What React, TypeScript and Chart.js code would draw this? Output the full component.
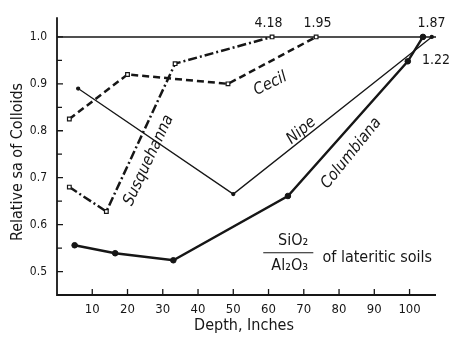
import React, { useEffect, useRef } from 'react';
import { Chart, registerables } from 'chart.js';

Chart.register(...registerables);

// ---- data (depth in inches, relative SiO2/Al2O3 of colloids) ----
const susquehannaDepth = [3.5, 14, 33.5, 61];
const susquehannaValue = [0.68, 0.628, 0.943, 1.0];
const cecilDepth = [3.5, 20, 48.5, 73.5];
const cecilValue = [0.825, 0.92, 0.9, 1.0];
const nipeDepth = [6, 50, 106.3];
const nipeValue = [0.89, 0.665, 1.0];
const columbianaDepth = [5, 16.5, 33, 65.5, 99.5, 103.8];
const columbianaValue = [0.556, 0.539, 0.524, 0.661, 0.948, 1.0];

const yTickValues = [0.5, 0.6, 0.7, 0.8, 0.9, 1.0];
const yMinorTickValues = [0.55, 0.65, 0.75, 0.85, 0.95];
const xTickValues = [10, 20, 30, 40, 50, 60, 70, 80, 90, 100];
const offScaleLabels = ['4.18', '1.95', '1.87', '1.22'];

const ink = '#161616';
const FONT = '"DejaVu Sans Condensed", "Liberation Sans Narrow", "DejaVu Sans", sans-serif';

const toPoints = (xs: number[], ys: number[]) => xs.map((x, i) => ({ x, y: ys[i] }));

const decor = {
  id: 'decor',
  beforeDatasetsDraw(chart: any) {
    const { ctx, scales, chartArea } = chart;
    const y = scales.y;
    ctx.save();
    ctx.strokeStyle = ink;
    ctx.lineWidth = 1.5;
    const py = y.getPixelForValue(1.0);
    ctx.beginPath();
    ctx.moveTo(chartArea.left, py);
    ctx.lineTo(chartArea.right, py);
    ctx.stroke();
    ctx.restore();
  },
  afterDraw(chart: any) {
    const { ctx, scales, chartArea } = chart;
    const x = scales.x;
    const y = scales.y;
    const X = (v: number) => x.getPixelForValue(v);
    const Y = (v: number) => y.getPixelForValue(v);
    ctx.save();
    ctx.strokeStyle = ink;
    ctx.fillStyle = ink;
    ctx.lineWidth = 1.8;
    // axes
    ctx.beginPath();
    ctx.moveTo(chartArea.left, chartArea.top);
    ctx.lineTo(chartArea.left, chartArea.bottom);
    ctx.lineTo(chartArea.right, chartArea.bottom);
    ctx.stroke();
    // ticks (inward)
    ctx.lineWidth = 1.3;
    ctx.beginPath();
    yTickValues.forEach((v) => {
      ctx.moveTo(chartArea.left, Y(v));
      ctx.lineTo(chartArea.left + 6, Y(v));
    });
    yMinorTickValues.forEach((v) => {
      ctx.moveTo(chartArea.left, Y(v));
      ctx.lineTo(chartArea.left + 5, Y(v));
    });
    xTickValues.forEach((v) => {
      ctx.moveTo(X(v), chartArea.bottom);
      ctx.lineTo(X(v), chartArea.bottom - 6);
    });
    ctx.stroke();

    // axis titles
    ctx.font = `16px ${FONT}`;
    ctx.textAlign = 'center';
    ctx.textBaseline = 'middle';
    ctx.fillText('Depth, Inches', 244, 326);
    ctx.save();
    ctx.translate(18, 162);
    ctx.rotate(-Math.PI / 2);
    ctx.fillText('Relative sa of Colloids', 0, 0);
    ctx.restore();

    // off-scale values
    ctx.font = `14px ${FONT}`;
    ctx.fillText(offScaleLabels[0], X(60), Y(1.028));
    ctx.fillText(offScaleLabels[1], X(73.9), Y(1.028));
    ctx.fillText(offScaleLabels[2], X(106.2), Y(1.028));
    ctx.fillText(offScaleLabels[3], X(107.5), Y(0.95));

    // series names
    const rotText = (t: string, vx: number, vy: number, deg: number) => {
      ctx.save();
      ctx.translate(X(vx), Y(vy));
      ctx.rotate((deg * Math.PI) / 180);
      ctx.fillText(t, 0, 0);
      ctx.restore();
    };
    ctx.font = `italic 16px ${FONT}`;
    rotText('Cecil', 60.5, 0.9, -26);
    rotText('Susquehanna', 26, 0.737, -65);
    rotText('Nipe', 69.3, 0.8, -40);
    rotText('Columbiana', 83.5, 0.752, -51);

    // fraction caption
    ctx.font = `16px ${FONT}`;
    ctx.fillText('SiO\u2082', X(67), Y(0.565));
    ctx.fillText('Al\u2082O\u2083', X(66), Y(0.513));
    ctx.lineWidth = 1.2;
    ctx.beginPath();
    ctx.moveTo(X(58.5), Y(0.54));
    ctx.lineTo(X(72.7), Y(0.54));
    ctx.stroke();
    ctx.textAlign = 'left';
    ctx.fillText('of lateritic soils', X(75.3), Y(0.53));
    ctx.restore();
  },
};

export default function App() {
  const ref = useRef<HTMLCanvasElement>(null);
  useEffect(() => {
    document.body.style.margin = '0';
    const canvas = ref.current;
    if (!canvas) return;
    const chart = new Chart(canvas, {
      type: 'line',
      data: {
        datasets: [
          {
            label: 'Susquehanna',
            data: toPoints(susquehannaDepth, susquehannaValue),
            borderColor: ink,
            borderWidth: 2.5,
            borderDash: [9, 3, 2, 3],
            pointStyle: 'rect',
            pointRadius: 2.6,
            pointBackgroundColor: '#fff',
            pointBorderColor: ink,
            pointBorderWidth: 1.2,
          },
          {
            label: 'Cecil',
            data: toPoints(cecilDepth, cecilValue),
            borderColor: ink,
            borderWidth: 2.5,
            borderDash: [7, 4],
            pointStyle: 'rect',
            pointRadius: 2.6,
            pointBackgroundColor: '#fff',
            pointBorderColor: ink,
            pointBorderWidth: 1.2,
          },
          {
            label: 'Nipe',
            data: toPoints(nipeDepth, nipeValue),
            borderColor: ink,
            borderWidth: 1.3,
            pointRadius: 1.5,
            pointBackgroundColor: ink,
            pointBorderColor: ink,
          },
          {
            label: 'Columbiana',
            data: toPoints(columbianaDepth, columbianaValue),
            borderColor: ink,
            borderWidth: 2.4,
            pointRadius: 2.8,
            pointBorderWidth: 1,
            pointBackgroundColor: ink,
            pointBorderColor: ink,
          },
        ],
      },
      options: {
        responsive: false,
        animation: false,
        clip: false,
        layout: { padding: { top: 13, right: 13, left: 0, bottom: 0 } },
        plugins: { legend: { display: false }, tooltip: { enabled: false } },
        scales: {
          x: {
            type: 'linear',
            min: 0,
            max: 107.5,
            grid: { display: false, drawTicks: false },
            border: { display: false },
            afterBuildTicks: (s: any) => {
              s.ticks = xTickValues.map((v) => ({ value: v }));
            },
            afterFit: (s: any) => {
              s.height = 42;
            },
            ticks: {
              color: ink,
              padding: 7,
              maxRotation: 0,
              autoSkip: false,
              font: { family: FONT, size: 13 },
              callback: (v: any) => String(v),
            },
          },
          y: {
            type: 'linear',
            min: 0.45,
            max: 1.042,
            grid: { display: false, drawTicks: false },
            border: { display: false },
            afterBuildTicks: (s: any) => {
              s.ticks = yTickValues.map((v) => ({ value: v }));
            },
            afterFit: (s: any) => {
              s.width = 57;
            },
            ticks: {
              color: ink,
              padding: 10,
              autoSkip: false,
              font: { family: FONT, size: 12 },
              callback: (v: any) => Number(v).toFixed(1),
            },
          },
        },
      },
      plugins: [decor],
    });
    return () => chart.destroy();
  }, []);
  return (
    <div style={{ width: 449, height: 337, background: '#fff' }}>
      <canvas ref={ref} width={449} height={337} />
    </div>
  );
}
